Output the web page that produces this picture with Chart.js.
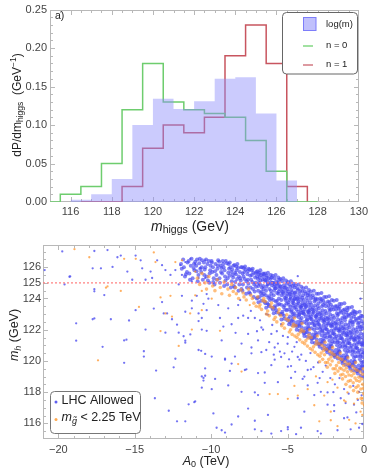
<!DOCTYPE html>
<html><head><meta charset="utf-8">
<script src="https://cdn.jsdelivr.net/npm/chart.js@4.4.1/dist/chart.umd.min.js"></script>
<style>
html,body{margin:0;padding:0;background:#fff;}
#wrap{position:relative;width:371px;height:470px;overflow:hidden;}
canvas{position:absolute;left:0;}
</style>
</head><body>
<div id="wrap">
<canvas id="top" width="371" height="236" style="top:0;width:371px;height:236px"></canvas>
<canvas id="bot" width="371" height="234" style="top:236px;width:371px;height:234px"></canvas>
</div>
<script>
// ---------- Panel a) histogram data ----------
const logmEdges  = [116,117,118,119,120,121,122,123,124,125,126,127];
const logmValues = [0.003,0.01,0.03,0.10,0.134,0.121,0.131,0.16,0.162,0.115,0.028];
const n0Edges  = [115,115.5,116.5,117.5,118.5,119.5,120.5,121.5,122.5,123.5,124.5,125.5,126.5,128];
const n0Values = [0,0.01,0.02,0.05,0.12,0.18,0.13,0.12,0.115,0.11,0.08,0.04,0];
const n1Edges  = [116.5,118.5,119.5,120.5,121.5,122.5,123.5,124.5,125.5,126.5,127.5];
const n1Values = [0,0.02,0.07,0.10,0.09,0.11,0.19,0.23,0.18,0.02];
const topXTicks = [116,118,120,122,124,126,128,130];
const topYTicks = [0,0.05,0.10,0.15,0.20,0.25];

// ---------- Panel b) scatter data (A0 [TeV], m_h [GeV]) ----------
const botXTicks = [-20,-15,-10,-5,0];
const botYTicks = [116,118,120,122,124,125,126];
const mhRef = 125;

const lhcDense = [
[-11.97,126.2],[-11.58,125.7],[-11.83,126.5],[-11.71,125.4],[-11.92,125.9],[-11.54,126.3],[-11.78,126.0],[-11.65,125.55],
[-11.47,126.4],[-11.09,125.8],[-11.33,126.1],[-11.21,125.3],[-11.42,125.6],[-11.04,126.35],[-11.28,126.55],[-11.15,125.95],[-11.38,125.2],[-11.12,126.2],
[-10.97,126.1],[-10.59,126.45],[-10.83,125.5],[-10.71,125.9],[-10.92,126.5],[-10.54,125.2],[-10.78,126.25],[-10.65,125.7],[-10.88,125.1],[-10.62,126.0],[-10.95,125.75],[-10.74,126.55],
[-10.47,126.3],[-10.09,125.6],[-10.33,126.5],[-10.21,125.15],[-10.42,125.85],[-10.04,126.1],[-10.28,125.4],[-10.15,126.4],[-10.38,126.0],[-10.12,125.0],[-10.45,125.5],[-10.24,126.2],[-10.06,125.8],
[-9.97,126.4],[-9.59,125.9],[-9.83,125.3],[-9.71,126.2],[-9.92,125.7],[-9.54,126.45],[-9.78,124.9],[-9.65,125.5],[-9.88,126.0],[-9.62,125.2],[-9.95,126.3],[-9.74,125.75],[-9.56,126.1],[-9.86,125.05],
[-9.47,126.35],[-9.09,125.4],[-9.33,125.95],[-9.21,126.2],[-9.42,125.0],[-9.04,126.4],[-9.28,125.6],[-9.15,124.8],[-9.38,126.1],[-9.12,125.8],[-9.45,125.3],[-9.24,126.4],[-9.06,125.15],[-9.35,125.7],[-9.18,126.0],
[-8.97,126.25],[-8.59,125.5],[-8.83,125.9],[-8.71,124.7],[-8.92,125.3],[-8.54,126.1],[-8.78,126.3],[-8.65,125.1],[-8.88,125.65],[-8.62,125.85],[-8.95,124.9],[-8.74,126.0],[-8.56,125.35],[-8.86,126.2],[-8.68,125.7],[-8.51,124.8],[-8.80,125.45],
[-8.47,126.15],[-8.09,125.3],[-8.33,125.8],[-8.21,124.5],[-8.42,125.05],[-8.04,126.0],[-8.28,126.2],[-8.15,124.9],[-8.38,125.55],[-8.12,125.7],[-8.45,124.7],[-8.24,125.95],[-8.06,125.15],[-8.35,126.05],[-8.18,125.4],[-8.01,124.6],[-8.30,125.25],[-8.44,125.65],
[-7.97,126.0],[-7.59,125.2],[-7.83,125.7],[-7.71,124.3],[-7.92,124.9],[-7.54,125.9],[-7.78,126.05],[-7.65,124.7],[-7.88,125.4],[-7.62,125.55],[-7.95,124.5],[-7.74,125.85],[-7.56,124.95],[-7.86,125.95],[-7.68,125.1],[-7.51,124.4],[-7.80,125.25],[-7.94,125.6],[-7.60,125.75],
[-7.47,125.85],[-7.09,125.0],[-7.33,125.5],[-7.21,124.1],[-7.42,124.7],[-7.04,125.7],[-7.28,125.9],[-7.15,124.45],[-7.38,125.2],[-7.12,125.35],[-7.45,124.3],[-7.24,125.65],[-7.06,124.75],[-7.35,125.8],[-7.18,124.9],[-7.01,124.0],[-7.30,125.05],[-7.44,125.45],[-7.10,125.6],[-7.26,124.6],
[-6.97,125.75],[-6.59,124.8],[-6.83,125.35],[-6.71,123.85],[-6.92,124.5],[-6.54,125.55],[-6.78,125.8],[-6.65,124.2],[-6.88,125.0],[-6.62,125.2],[-6.95,124.05],[-6.74,125.5],[-6.56,124.6],[-6.86,125.65],[-6.68,124.7],[-6.51,123.8],[-6.80,124.9],[-6.94,125.25],[-6.60,125.4],[-6.76,124.35],[-6.90,123.75],
[-6.47,125.6],[-6.09,124.5],[-6.33,125.1],[-6.21,123.5],[-6.42,124.2],[-6.04,125.35],[-6.28,125.65],[-6.15,123.9],[-6.38,124.75],[-6.12,125.0],[-6.45,123.7],[-6.24,125.3],[-6.06,124.3],[-6.35,125.45],[-6.18,124.6],[-6.01,123.4],[-6.30,124.9],[-6.44,125.15],[-6.10,125.5],[-6.26,124.05],[-6.40,123.4],[-6.03,124.85],
[-5.97,125.45],[-5.59,124.3],[-5.83,124.9],[-5.71,123.1],[-5.92,123.9],[-5.54,125.2],[-5.78,125.5],[-5.65,123.6],[-5.88,124.5],[-5.62,124.8],[-5.95,123.3],[-5.74,125.1],[-5.56,124.0],[-5.86,125.3],[-5.68,124.35],[-5.51,123.0],[-5.80,124.65],[-5.94,125.0],[-5.60,125.35],[-5.76,123.8],[-5.90,123.05],[-5.53,124.6],[-5.70,124.95],[-5.84,123.5],
[-5.47,125.25],[-5.09,124.0],[-5.33,124.6],[-5.21,122.7],[-5.42,123.6],[-5.04,124.95],[-5.28,125.3],[-5.15,123.3],[-5.38,124.2],[-5.12,124.5],[-5.45,123.0],[-5.24,124.85],[-5.06,123.7],[-5.35,125.1],[-5.18,124.05],[-5.01,122.6],[-5.30,124.4],[-5.44,124.75],[-5.10,125.15],[-5.26,123.45],[-5.40,122.65],[-5.03,124.3],[-5.20,124.7],[-5.34,123.15],[-5.14,123.9],
[-4.97,125.05],[-4.59,123.7],[-4.83,124.3],[-4.71,122.3],[-4.92,123.3],[-4.54,124.7],[-4.78,125.1],[-4.65,123.0],[-4.88,123.9],[-4.62,124.2],[-4.95,122.7],[-4.74,124.55],[-4.56,123.4],[-4.86,124.9],[-4.68,123.75],[-4.51,122.25],[-4.80,124.1],[-4.94,124.45],[-4.60,124.95],[-4.76,123.15],[-4.90,122.35],[-4.53,124.0],[-4.70,124.4],[-4.84,122.85],[-4.64,123.55],[-4.58,122.5],[-4.82,124.75],
[-4.47,124.85],[-4.09,123.4],[-4.33,124.0],[-4.21,121.95],[-4.42,122.9],[-4.04,124.45],[-4.28,124.9],[-4.15,122.6],[-4.38,123.6],[-4.12,123.9],[-4.45,122.3],[-4.24,124.3],[-4.06,123.1],[-4.35,124.65],[-4.18,123.45],[-4.01,121.9],[-4.30,123.8],[-4.44,124.15],[-4.10,124.75],[-4.26,122.8],[-4.40,122.0],[-4.03,123.7],[-4.20,124.1],[-4.34,122.5],[-4.14,123.25],[-4.08,122.15],[-4.32,124.55],[-4.22,123.0],
[-3.97,124.65],[-3.59,123.1],[-3.83,123.7],[-3.71,121.55],[-3.92,122.5],[-3.54,124.2],[-3.78,124.7],[-3.65,122.2],[-3.88,123.3],[-3.62,123.6],[-3.95,121.9],[-3.74,124.05],[-3.56,122.8],[-3.86,124.45],[-3.68,123.15],[-3.51,121.5],[-3.80,123.5],[-3.94,123.9],[-3.60,124.55],[-3.76,122.4],[-3.90,121.6],[-3.53,123.4],[-3.70,123.85],[-3.84,122.1],[-3.64,122.95],[-3.58,121.75],[-3.82,124.3],[-3.72,122.65],[-3.98,123.05],[-3.66,124.35],
[-3.47,124.45],[-3.09,122.8],[-3.33,123.4],[-3.21,121.15],[-3.42,122.1],[-3.04,123.95],[-3.28,124.5],[-3.15,121.8],[-3.38,123.0],[-3.12,123.3],[-3.45,121.5],[-3.24,123.8],[-3.06,122.45],[-3.35,124.2],[-3.18,122.85],[-3.01,121.1],[-3.30,123.2],[-3.44,123.6],[-3.10,124.3],[-3.26,122.0],[-3.40,121.2],[-3.03,123.1],[-3.20,123.55],[-3.34,121.7],[-3.14,122.6],[-3.08,121.35],[-3.32,124.05],[-3.22,122.3],[-3.48,122.7],[-3.16,124.0],[-3.37,122.4],
[-2.97,124.3],[-2.59,122.5],[-2.83,123.1],[-2.71,120.8],[-2.92,121.8],[-2.54,123.7],[-2.78,124.35],[-2.65,121.45],[-2.88,122.7],[-2.62,123.0],[-2.95,121.15],[-2.74,123.5],[-2.56,122.1],[-2.86,124.0],[-2.68,122.55],[-2.51,120.75],[-2.80,122.9],[-2.94,123.35],[-2.60,124.1],[-2.76,121.65],[-2.90,120.9],[-2.53,122.8],[-2.70,123.25],[-2.84,121.35],[-2.64,122.3],[-2.58,121.0],[-2.82,123.8],[-2.72,121.95],[-2.98,122.35],[-2.66,123.85],[-2.87,122.05],[-2.55,121.6],
[-2.47,124.1],[-2.09,122.2],[-2.33,122.8],[-2.21,120.45],[-2.42,121.5],[-2.04,123.45],[-2.28,124.15],[-2.15,121.1],[-2.38,122.4],[-2.12,122.7],[-2.45,120.8],[-2.24,123.2],[-2.06,121.75],[-2.35,123.8],[-2.18,122.25],[-2.01,120.4],[-2.30,122.6],[-2.44,123.05],[-2.10,123.9],[-2.26,121.3],[-2.40,120.55],[-2.03,122.5],[-2.20,122.95],[-2.34,121.0],[-2.14,121.95],[-2.08,120.65],[-2.32,123.55],[-2.22,121.6],[-2.48,122.05],[-2.16,123.6],[-2.37,121.75],[-2.05,121.25],[-2.27,123.35],
[-1.97,123.85],[-1.59,121.9],[-1.83,122.5],[-1.71,120.15],[-1.92,121.2],[-1.54,123.2],[-1.78,123.9],[-1.65,120.8],[-1.88,122.1],[-1.62,122.4],[-1.95,120.5],[-1.74,122.9],[-1.56,121.45],[-1.86,123.5],[-1.68,121.95],[-1.51,120.1],[-1.80,122.3],[-1.94,122.75],[-1.60,123.65],[-1.76,121.0],[-1.90,120.25],[-1.53,122.2],[-1.70,122.65],[-1.84,120.7],[-1.64,121.65],[-1.58,120.35],[-1.82,123.3],[-1.72,121.3],[-1.98,121.75],[-1.66,123.35],[-1.87,121.45],[-1.55,120.95],[-1.77,123.05],[-1.61,120.6],
[-1.47,123.65],[-1.09,121.6],[-1.33,122.2],[-1.21,119.75],[-1.42,120.9],[-1.04,122.95],[-1.28,123.7],[-1.15,120.5],[-1.38,121.8],[-1.12,122.1],[-1.45,120.2],[-1.24,122.6],[-1.06,121.15],[-1.35,123.25],[-1.18,121.65],[-1.01,119.7],[-1.30,122.0],[-1.44,122.45],[-1.10,123.4],[-1.26,120.7],[-1.40,119.85],[-1.03,121.9],[-1.20,122.35],[-1.34,120.35],[-1.14,121.35],[-1.08,120.0],[-1.32,123.0],[-1.22,121.0],[-1.48,121.45],[-1.16,123.1],[-1.37,121.15],[-1.05,120.65],[-1.27,122.8],[-1.11,120.25],[-1.41,122.75],
[-0.97,123.4],[-0.59,121.3],[-0.83,121.9],[-0.71,119.4],[-0.92,120.6],[-0.54,122.7],[-0.78,123.45],[-0.65,120.2],[-0.88,121.5],[-0.62,121.8],[-0.95,119.85],[-0.74,122.3],[-0.56,120.85],[-0.86,123.0],[-0.68,121.35],[-0.51,119.35],[-0.80,121.7],[-0.94,122.15],[-0.60,123.15],[-0.76,120.4],[-0.90,119.5],[-0.53,121.6],[-0.70,122.05],[-0.84,120.0],[-0.64,121.05],[-0.58,119.65],[-0.82,122.75],[-0.72,120.7],[-0.98,121.15],[-0.66,122.85],[-0.87,120.85],[-0.55,120.3],[-0.77,122.5],[-0.61,119.95],[-0.91,122.45],[-0.69,123.2],
[-0.47,123.1],[-0.09,121.0],[-0.33,121.6],[-0.21,119.05],[-0.42,120.3],[-0.04,122.4],[-0.28,123.15],[-0.15,119.9],[-0.38,121.2],[-0.12,121.5],[-0.45,119.5],[-0.24,122.0],[-0.06,120.55],[-0.35,122.75],[-0.18,121.05],[-0.01,119.0],[-0.30,121.4],[-0.44,121.85],[-0.10,122.85],[-0.26,120.1],[-0.40,119.2],[-0.03,121.3],[-0.20,121.75],[-0.34,119.7],[-0.14,120.75],[-0.08,119.3],[-0.32,122.45],[-0.22,120.4],[-0.48,120.85],[-0.16,122.55],[-0.37,120.55],[-0.05,119.95],[-0.27,122.2],[-0.11,119.65],[-0.41,122.15],[-0.19,122.9]
];

const lhcCore = [
[-6.99,125.4],[-6.91,124.8],[-6.83,124.1],[-6.77,125.15],[-6.69,124.45],[-6.61,125.6],[-6.55,124.3],[-6.87,125.55],
[-6.49,125.2],[-6.41,124.5],[-6.33,123.7],[-6.27,124.95],[-6.19,124.15],[-6.11,125.25],[-6.05,124.0],[-6.37,125.35],[-6.23,123.6],
[-5.99,125.0],[-5.91,124.2],[-5.83,123.4],[-5.77,124.65],[-5.69,123.85],[-5.61,125.0],[-5.55,123.65],[-5.87,124.75],[-5.73,123.25],[-5.58,124.45],
[-5.49,124.8],[-5.41,123.9],[-5.33,123.0],[-5.27,124.3],[-5.19,123.55],[-5.11,124.7],[-5.05,123.25],[-5.37,124.45],[-5.23,122.9],[-5.08,124.15],
[-4.99,124.6],[-4.91,123.6],[-4.85,122.5],[-4.79,124.0],[-4.73,123.25],[-4.67,124.8],[-4.61,122.85],[-4.55,123.95],[-4.52,124.35],[-4.63,123.85],[-4.75,122.55],[-4.87,124.25],[-4.96,123.75],[-4.69,122.65],[-4.57,123.05],[-4.81,123.45],
[-4.49,124.4],[-4.41,123.3],[-4.35,122.2],[-4.29,123.7],[-4.23,122.95],[-4.17,124.5],[-4.11,122.45],[-4.05,123.55],[-4.02,124.05],[-4.13,123.5],[-4.25,122.25],[-4.37,123.95],[-4.46,123.45],[-4.19,122.35],[-4.07,122.75],[-4.31,123.15],
[-3.99,124.2],[-3.91,123.0],[-3.85,121.8],[-3.79,123.45],[-3.73,122.6],[-3.67,124.2],[-3.61,122.1],[-3.55,123.25],[-3.52,123.75],[-3.63,123.2],[-3.75,121.85],[-3.87,123.6],[-3.96,123.15],[-3.69,122.0],[-3.57,122.4],[-3.81,122.85],[-3.93,121.75],
[-3.49,124.0],[-3.41,122.65],[-3.35,121.45],[-3.29,123.1],[-3.23,122.25],[-3.17,123.9],[-3.11,121.7],[-3.05,122.95],[-3.02,123.5],[-3.13,122.9],[-3.25,121.5],[-3.37,123.3],[-3.46,122.85],[-3.19,121.6],[-3.07,122.1],[-3.31,122.5],[-3.43,121.4],
[-2.99,123.7],[-2.91,122.3],[-2.85,121.1],[-2.79,122.75],[-2.73,121.9],[-2.67,123.6],[-2.61,121.3],[-2.55,122.6],[-2.52,123.2],[-2.63,122.65],[-2.75,121.15],[-2.87,123.0],[-2.96,122.55],[-2.69,121.25],[-2.57,121.75],[-2.81,122.15],[-2.93,121.05],[-2.77,123.95],
[-2.49,123.5],[-2.41,122.0],[-2.35,120.75],[-2.29,122.4],[-2.23,121.55],[-2.17,123.3],[-2.11,120.95],[-2.05,122.3],[-2.02,122.9],[-2.13,122.35],[-2.25,120.8],[-2.37,122.7],[-2.46,122.25],[-2.19,120.9],[-2.07,121.45],[-2.31,121.85],[-2.43,120.7],[-2.27,123.75],
[-1.99,123.3],[-1.91,121.7],[-1.85,120.4],[-1.79,122.1],[-1.73,121.2],[-1.67,123.0],[-1.61,120.6],[-1.55,122.0],[-1.52,122.6],[-1.63,122.05],[-1.75,120.45],[-1.87,122.4],[-1.96,121.95],[-1.69,120.55],[-1.57,121.15],[-1.81,121.55],[-1.93,120.35],[-1.77,123.5],[-1.59,123.45],
[-1.49,123.1],[-1.41,121.4],[-1.35,120.05],[-1.29,121.8],[-1.23,120.9],[-1.17,122.8],[-1.11,120.3],[-1.05,121.7],[-1.02,122.3],[-1.13,121.75],[-1.25,120.1],[-1.37,122.1],[-1.46,121.65],[-1.19,120.2],[-1.07,120.85],[-1.31,121.25],[-1.43,120.0],[-1.27,123.3],[-1.09,123.25],
[-0.99,122.9],[-0.93,121.1],[-0.85,119.7],[-0.79,121.5],[-0.73,120.6],[-0.67,122.5],[-0.61,120.0],[-0.55,121.4],[-0.52,122.0],[-0.63,121.45],[-0.75,119.75],[-0.87,121.8],[-0.96,121.35],[-0.69,119.85],[-0.57,120.55],[-0.81,120.95],[-0.93,119.65],[-0.77,123.05],[-0.59,123.0],[-0.89,122.55],
[-0.49,122.6],[-0.43,120.8],[-0.35,119.4],[-0.29,121.2],[-0.23,120.3],[-0.17,122.2],[-0.11,119.7],[-0.05,121.1],[-0.02,121.7],[-0.13,121.15],[-0.25,119.45],[-0.37,121.5],[-0.46,121.05],[-0.19,119.55],[-0.07,120.25],[-0.31,120.65],[-0.43,119.35],[-0.27,122.75],[-0.09,122.1],[-0.39,122.4],[-0.01,120.5]
];

const lhcSparse = [
[-19.74,127.01],[-20.89,125.82],[-19.59,124.9],[-19.22,125.41],[-17.75,125.93],[-17.21,125.93],[-17.64,124.59],[-16.78,127.1],[-16.45,126.02],[-16.99,124.22],[-16.13,126.64],[-15.91,126.75],[-15.48,125.72],[-15.16,125.2],[-14.94,126.75],[-14.61,126.44],[-14.51,125.93],[-14.29,125.2],[-13.96,125.72],[-13.86,125.31],[-13.53,126.44],[-13.21,126.13],[-12.99,125.82],[-12.66,125.51],[-12.34,125.82],[-12.01,126.13],[-11.69,126.33],[-11.36,126.54],[-11.04,126.23],[-10.71,125.93],[-10.39,126.44],[-11.91,125.51],[-11.26,125.1],[-10.82,125.31],[-10.39,125.31],[-12.12,124.9],[-10.94,124.17],[-10.29,124.28],[-13.21,123.77],[-11.91,124.17],[-11.26,123.86],[-10.5,123.66],[-13.1,123.04],[-12.88,123.04],[-12.56,122.67],[-12.23,122.32],[-11.69,123.15],[-10.82,123.04],[-10.29,123.25],[-13.75,123.35],[-17.75,122.67],[-16.56,122.67],[-15.37,122.59],[-14.94,123.25],[-14.29,122.01],[-12.99,121.81],[-12.12,121.81],[-11.36,121.7],[-10.61,122.01],[-18.83,121.3],[-15.54,121.36],[-11.69,121.3],
[-17.1,120.9],[-15.69,119.88],[-14.4,120.62],[-14.4,120.28],[-13.6,119.38],[-12.45,119.59],[-11.8,121.58],[-10.65,120.65],[-10.39,119.52],[-10.61,119.01],[-10.5,118.74],[-10.61,118.29],[-13.68,117.61],[-12.77,116.81],[-11.47,117.22],[-11.1,117.36],[-11.69,116.13],
[-15.69,121.31],[-12.23,116.13],[-9.96,118.19],[-9.85,116.64],[-9.64,115.72],[-9.09,115.41],[-8.66,115.93],[-8.23,116.44],[-7.14,115.62],[-6.71,115.51],[-6.28,116.54],[-5.42,115.51],[-4.98,115.62],[-4.44,115.31],[-7.58,116.95],[-7.14,117.98],[-6.49,118.6],[-4.77,118.91],[-3.68,119.42],[-3.03,118.6],[-2.38,117.98],[-1.95,117.16],[-1.3,116.33],[-0.87,115.62],[-0.32,115.72],[-3.9,116.75],[-3.03,115.51],[-4.12,115.72],[-10.5,118.91],[-10.39,120.45],[-9.09,120.14],[-8.66,119.83],[-7.36,120.86],[-6.71,120.56],[-5.84,120.86],[-5.42,120.25],[-4.98,119.63],[-4.33,120.25],[-7.79,119.42],[-6.93,119.22],[-6.06,119.73],[-11.69,121.17],[-12.34,120.14],
[-11.26,123.37],[-10.82,122.55],[-10.29,121.93],[-9.96,120.28],[-11.04,117.41],[-9.31,115.56],[-8.77,119.36],[-8.66,122.35],[-8.23,122.75],[-8.01,121.11],[-7.58,121.73],[-7.36,120.49],[-7.14,122.75],[-6.93,121.31],[-6.71,122.14],[-6.39,120.7],[-6.28,122.96],[-6.06,121.73],[-5.84,120.08],[-5.63,121.11],[-5.42,122.35],[-5.2,120.49],[-4.98,121.52],[-4.77,119.67],[-4.55,120.9],[-4.22,120.08],[-4.01,118.85],[-3.68,118.43],[-3.47,119.46],[-3.25,117.81],[-2.82,118.02],[-2.38,117.2],[-1.95,116.79],[-1.52,117.61],[-1.08,116.38],[-0.65,117.2],[-0.32,118.02],[-0.11,115.96],[-1.73,115.56],[-2.82,115.35],[-4.98,115.76],[-6.06,115.35],[-7.14,116.17],[-8.01,118.02],[-8.88,118.43],[-9.74,118.85],[-10.39,119.05],[-6.49,119.26],[-5.63,118.64],[-6.93,117.81],[-4.33,117.61],[-9.31,121.31],[-10.18,123.99],[-10.61,122.75],[-9.53,123.58],[-8.88,123.37],[-8.23,123.58],[-7.58,122.75],[-9.42,122.75],[-10.82,120.7],[-8.44,120.28],[-9.09,120.08],[-7.69,119.46],[-0.22,123.99],[-4.33,125.43],
[-19.27,125.39],[-17.64,127.04],[-17.64,124.46],[-18.83,122.41],[-17.64,122.72],
[-7.9,122.9],[-7.4,123.2],[-6.8,122.6],[-6.4,123.0],[-6.0,122.3],[-5.7,121.9],[-5.3,121.6],[-5.0,121.1],[-4.7,120.6],[-4.4,121.2],[-4.1,120.4],[-3.8,120.0],[-3.5,120.5],[-3.3,119.6],[-3.0,119.9],[-2.7,119.3],[-2.5,119.7],[-2.2,118.9],[-1.9,118.5],[-1.6,118.9],[-1.3,118.2],[-1.0,117.9],[-0.7,118.4],[-0.4,117.5],[-0.15,117.8],[-8.4,121.8],[-7.0,121.9],[-6.2,121.2],[-5.5,120.6],[-4.9,120.1],[-4.5,119.3],[-3.9,119.0],[-2.9,118.9],[-2.0,118.0],[-1.2,117.3],[-0.5,116.7],[-9.2,122.2],[-8.1,123.9],[-6.6,122.0],[-5.9,120.4]
];

const gluinoDense = [
[-10.9,125.3],[-10.6,125.6],[-10.75,124.9],[-10.4,125.0],[-10.15,125.4],[-10.3,124.6],[-9.9,124.8],[-9.6,125.2],[-9.75,124.5],[-9.4,124.7],[-9.15,125.05],[-9.3,124.3],
[-8.9,124.6],[-8.65,124.9],[-8.8,124.2],[-8.55,124.45],[-8.4,124.7],[-8.2,124.0],[-8.35,124.3],[-8.05,124.55],[-7.9,124.35],[-7.7,123.9],[-7.85,124.1],[-7.55,124.6],[-7.4,124.2],[-7.2,123.7],[-7.3,124.0],[-7.05,123.5],
[-6.95,124.1],[-6.8,123.6],[-6.6,123.85],[-6.7,123.3],[-6.55,124.0],[-6.85,123.45],
[-6.45,123.8],[-6.3,123.2],[-6.1,123.5],[-6.2,122.9],[-6.05,123.7],[-6.38,123.0],
[-5.95,123.4],[-5.8,122.8],[-5.6,123.1],[-5.7,122.5],[-5.55,123.3],[-5.88,122.65],
[-5.45,122.9],[-5.3,122.4],[-5.1,122.7],[-5.2,122.1],[-5.05,122.95],[-5.38,122.25],
[-4.95,122.6],[-4.8,122.0],[-4.6,122.35],[-4.7,121.7],[-4.55,122.75],[-4.88,121.85],[-4.65,122.2],[-4.52,121.6],
[-4.45,122.25],[-4.3,121.7],[-4.1,122.0],[-4.2,121.35],[-4.05,122.4],[-4.38,121.5],[-4.15,121.85],[-4.02,121.2],
[-3.95,121.9],[-3.8,121.3],[-3.6,121.65],[-3.7,120.95],[-3.55,122.0],[-3.88,121.1],[-3.65,121.45],[-3.52,120.8],
[-3.45,121.5],[-3.3,120.9],[-3.1,121.25],[-3.2,120.55],[-3.05,121.6],[-3.38,120.7],[-3.15,121.05],[-3.02,120.4],
[-2.95,121.1],[-2.8,120.5],[-2.6,120.85],[-2.7,120.1],[-2.55,121.2],[-2.88,120.3],[-2.65,120.65],[-2.52,119.9],[-2.75,121.0],[-2.9,119.95],[-2.58,120.4],
[-2.45,120.75],[-2.3,120.1],[-2.1,120.5],[-2.2,119.75],[-2.05,120.85],[-2.38,119.9],[-2.15,120.25],[-2.02,119.5],[-2.25,120.6],[-2.4,119.6],[-2.08,120.0],
[-1.95,120.4],[-1.8,119.7],[-1.6,120.15],[-1.7,119.35],[-1.55,120.5],[-1.88,119.5],[-1.65,119.9],[-1.52,119.1],[-1.75,120.25],[-1.9,119.2],[-1.58,119.55],
[-1.45,120.1],[-1.3,119.4],[-1.1,119.8],[-1.2,119.0],[-1.05,120.2],[-1.38,119.15],[-1.15,119.55],[-1.02,118.7],[-1.25,119.95],[-1.4,118.85],[-1.08,119.3],[-1.33,119.7],[-1.18,118.5],[-1.48,119.5],
[-0.95,119.8],[-0.8,119.05],[-0.6,119.5],[-0.7,118.6],[-0.55,119.9],[-0.88,118.75],[-0.65,119.2],[-0.52,118.3],[-0.75,119.65],[-0.9,118.35],[-0.58,118.9],[-0.83,119.35],[-0.68,118.1],[-0.98,119.1],
[-0.45,119.4],[-0.3,118.7],[-0.1,119.15],[-0.2,118.2],[-0.05,119.5],[-0.38,118.4],[-0.15,118.85],[-0.02,117.9],[-0.25,119.3],[-0.4,118.0],[-0.08,118.5],[-0.33,118.95],[-0.18,117.6],[-0.48,118.75],[-0.12,117.3],[-0.03,118.25]
];

const gluinoSparse = [
[-18.94,127.16],[-17.97,126.64],[-16.88,124.69],[-15.91,124.48],[-15.69,126.54],[-14.93,126.54],[-14.72,123.46],[-13.75,126.95],[-13.64,126.33],[-13.31,124.07],[-12.66,124.17],[-12.56,122.84],[-13.31,121.91],[-11.26,122.01],[-12.34,126.33],[-11.91,126.44],[-11.04,125.72],[-10.61,124.48],[-10.61,123.25],[-11.37,123.04],[-12.99,123.04],[-16.78,124.77],
[-17.4,120.04],[-12.12,120.96],[-8.23,119.8],[-4.98,117.57],[-2.92,116.13],[-0.55,116.0],[-1.2,117.4],[-0.11,117.6],[-2.17,116.75],
[-1.3,117.47],[-0.65,117.26],[-0.22,116.75],[-2.17,116.2],[-1.73,115.82],[-0.97,116.23],[-0.11,116.54],[-4.33,117.78],[-5.63,117.88],[-6.17,117.88],[-3.25,117.16],[-2.6,117.78],[-4.55,118.4],[-3.68,118.19],[-8.01,119.32],[-3.14,119.01],[-2.06,118.8],[-1.73,118.29],[-1.08,117.98],[-0.43,117.57],[0,117.16],
[-7.47,123.58],[-9.42,121.93],[-2.38,118.64],[-9.96,123.99],[-11.04,124.2]
];

// ---------- helpers ----------
const FONT = "'Liberation Sans', Arial, sans-serif";
Chart.defaults.font.family = FONT;
Chart.defaults.animation = false;

function stepPoints(edges, values){
  const pts = values.map((v,i)=>({x:edges[i], y:v}));
  const last = edges[edges.length-1];
  pts.push({x:last, y:values[values.length-1]});
  pts.push({x:last, y:0});
  return pts;
}
function toXY(arr){ return arr.map(p=>({x:p[0], y:p[1]})); }

function rich(ctx, parts, x, y, align){
  const items = parts.map(p=>{
    const st = p.i ? 'italic ' : '';
    const f = st + p.s + 'px ' + FONT;
    ctx.font = f;
    return {p, f, w: ctx.measureText(p.t).width};
  });
  const total = items.reduce((a,b)=>a+b.w,0);
  let cx = align==='center' ? x-total/2 : (align==='left' ? x : x-total);
  ctx.textAlign='left'; ctx.textBaseline='middle';
  for (const it of items){
    ctx.font = it.f;
    ctx.fillText(it.p.t, cx, y + (it.p.dy||0));
    cx += it.w;
  }
}

function frameTicks(chart, xMaj, xMin, yMaj, yMin){
  const {ctx, chartArea:a, scales:{x, y}} = chart;
  ctx.save();
  ctx.strokeStyle = '#b8b8b8'; ctx.lineWidth = 1;
  const L=Math.round(a.left)+0.5, R=Math.round(a.right)-0.5, T=Math.round(a.top)+0.5, B=Math.round(a.bottom)-0.5;
  ctx.strokeRect(L, T, R-L, B-T);
  ctx.beginPath();
  const vx = (list, len)=>list.forEach(v=>{ const p=Math.round(x.getPixelForValue(v))+0.5; if(p<L||p>R) return; ctx.moveTo(p,B); ctx.lineTo(p,B-len); ctx.moveTo(p,T); ctx.lineTo(p,T+len); });
  const vy = (list, len)=>list.forEach(v=>{ const p=Math.round(y.getPixelForValue(v))+0.5; if(p<T||p>B) return; ctx.moveTo(L,p); ctx.lineTo(L+len,p); ctx.moveTo(R,p); ctx.lineTo(R-len,p); });
  vx(xMaj,4.5); vx(xMin,2.5); vy(yMaj,4.5); vy(yMin,2.5);
  ctx.stroke();
  ctx.restore();
}
function range(a,b,s){ const r=[]; for(let v=a; v<=b+1e-9; v+=s) r.push(Math.round(v*1000)/1000); return r; }

// ---------- Top chart ----------
const topPlugin = {
  id:'topDeco',
  beforeDatasetsDraw(chart){
    frameTicks(chart, topXTicks, range(115,130,0.5), topYTicks, range(0,0.25,0.01));
  },
  afterDraw(chart){
    const ctx = chart.ctx; ctx.save();
    ctx.fillStyle='#222';
    rich(ctx,[{t:'a)',s:10.5}],55,16,'left');
    rich(ctx,[{t:'m',s:14,i:true},{t:'higgs',s:10.5,dy:3},{t:' (GeV)',s:14}],190,227,'center');
    ctx.save(); ctx.translate(18,105); ctx.rotate(-Math.PI/2);
    rich(ctx,[{t:'dP/dm',s:12},{t:'higgs',s:8.5,dy:3},{t:'  (GeV',s:12},{t:'\u22121',s:8.5,dy:-4},{t:')',s:12}],0,0,'center');
    ctx.restore();
    // legend
    ctx.beginPath(); ctx.roundRect(282.5,12.5,75,61.5,4);
    ctx.fillStyle='#fff'; ctx.fill(); ctx.strokeStyle='#666'; ctx.lineWidth=1; ctx.stroke();
    ctx.fillStyle='rgba(150,150,250,0.6)'; ctx.fillRect(303.5,17.5,12.5,13);
    ctx.strokeStyle='rgb(125,125,250)'; ctx.strokeRect(303.5,17.5,12.5,13);
    ctx.lineWidth=1.5;
    ctx.strokeStyle='rgb(130,215,130)'; ctx.beginPath(); ctx.moveTo(303,46); ctx.lineTo(313,46); ctx.stroke();
    ctx.strokeStyle='rgb(210,120,130)'; ctx.beginPath(); ctx.moveTo(303,65); ctx.lineTo(313,65); ctx.stroke();
    ctx.fillStyle='#222';
    rich(ctx,[{t:'log(m)',s:9.5}],326,24,'left');
    rich(ctx,[{t:'n = 0',s:9.5}],326,45,'left');
    rich(ctx,[{t:'n = 1',s:9.5}],326,64,'left');
    ctx.restore();
  }
};

new Chart(document.getElementById('top'), {
  type:'line',
  data:{datasets:[
    {label:'log(m)', data:stepPoints(logmEdges,logmValues), stepped:true, fill:'origin',
     backgroundColor:'rgba(140,140,250,0.45)', borderColor:'rgba(0,0,0,0)', borderWidth:1, pointRadius:0, order:0},
    {label:'n = 0', data:stepPoints(n0Edges,n0Values), stepped:true, fill:false,
     borderColor:'rgb(110,205,110)', borderWidth:1.5, pointRadius:0, order:1},
    {label:'n = 1', data:stepPoints(n1Edges,n1Values), stepped:true, fill:false,
     borderColor:'rgb(200,85,95)', borderWidth:1.5, pointRadius:0, order:2}
  ]},
  options:{
    responsive:false, animation:false, events:[],
    layout:{padding:{top:8,right:9,left:0,bottom:0}},
    plugins:{legend:{display:false}, tooltip:{enabled:false}},
    scales:{
      x:{type:'linear', min:115, max:130,
         afterBuildTicks:s=>{ s.ticks = topXTicks.map(v=>({value:v})); },
         ticks:{callback:v=>String(v), font:{size:11}, color:'#444', padding:3, maxRotation:0, autoSkip:false},
         grid:{display:false, drawTicks:false}, border:{display:false},
         afterFit:s=>{ s.height = 34; }},
      y:{type:'linear', min:0, max:0.25,
         afterBuildTicks:s=>{ s.ticks = topYTicks.map(v=>({value:v})); },
         ticks:{callback:v=>Number(v).toFixed(2), font:{size:11}, color:'#444', padding:3, autoSkip:false},
         grid:{display:false, drawTicks:false}, border:{display:false},
         afterFit:s=>{ s.width = 50; }}
    }
  },
  plugins:[topPlugin]
});

// ---------- Bottom chart ----------
const botPlugin = {
  id:'botDeco',
  beforeDatasetsDraw(chart){
    frameTicks(chart, botXTicks, range(-21,0,1), botYTicks, range(115,127,0.5));
  },
  afterDraw(chart){
    const ctx = chart.ctx; ctx.save();
    ctx.fillStyle='#222';
    rich(ctx,[{t:'A',s:12.5,i:true},{t:'0',s:9,dy:3},{t:' (TeV)',s:12.5}],206,226,'center');
    ctx.save(); ctx.translate(15,99); ctx.rotate(-Math.PI/2);
    rich(ctx,[{t:'m',s:12.5,i:true},{t:'h',s:9,i:true,dy:3},{t:' (GeV)',s:12.5}],0,0,'center');
    ctx.restore();
    // legend
    ctx.beginPath(); ctx.roundRect(50.5,155.5,90,42,4);
    ctx.fillStyle='rgba(255,255,255,0.95)'; ctx.fill(); ctx.strokeStyle='#777'; ctx.lineWidth=1; ctx.stroke();
    ctx.fillStyle='rgb(95,95,240)'; ctx.beginPath(); ctx.arc(56,166,1.5,0,Math.PI*2); ctx.fill();
    ctx.fillStyle='rgb(255,170,80)'; ctx.beginPath(); ctx.arc(56,183.5,1.5,0,Math.PI*2); ctx.fill();
    ctx.fillStyle='#222';
    rich(ctx,[{t:'LHC Allowed',s:12.5}],61.5,165,'left');
    rich(ctx,[{t:'m',s:12.5,i:true},{t:'g\u0303',s:9,i:true,dy:4},{t:' < 2.25 TeV',s:12.5}],61.5,181.5,'left');
    ctx.restore();
  }
};

const lhcAll = lhcSparse.concat(lhcDense, lhcCore);
const gluAll = gluinoSparse.concat(gluinoDense);
const nLhcSparse = lhcSparse.length, nGluSparse = gluinoSparse.length;

new Chart(document.getElementById('bot'), {
  type:'scatter',
  data:{datasets:[
    {type:'line', label:'125 GeV', data:[{x:-21,y:mhRef},{x:0,y:mhRef}], borderColor:'rgba(255,125,125,0.8)',
     borderDash:[2,2], borderWidth:1.5, pointRadius:0, fill:false, order:0},
    {label:'m_g < 2.25 TeV', data:toXY(gluAll),
     pointRadius:c=>c.dataIndex < nGluSparse ? 1.15 : 1.8, pointBorderWidth:0,
     backgroundColor:c=>c.dataIndex < nGluSparse ? 'rgba(255,150,45,0.75)' : 'rgba(255,150,45,0.62)',
     borderColor:'rgba(0,0,0,0)', order:1},
    {label:'LHC Allowed', data:toXY(lhcAll),
     pointRadius:c=>c.dataIndex < nLhcSparse ? 1.15 : 2.0, pointBorderWidth:0,
     backgroundColor:c=>c.dataIndex < nLhcSparse ? 'rgba(75,75,240,0.78)' : 'rgba(72,72,240,0.68)',
     borderColor:'rgba(0,0,0,0)', order:2}
  ]},
  options:{
    responsive:false, animation:false, events:[],
    layout:{padding:{top:1,right:4,left:0,bottom:0}},
    plugins:{legend:{display:false}, tooltip:{enabled:false}},
    scales:{
      x:{type:'linear', min:-21, max:0,
         afterBuildTicks:s=>{ s.ticks = botXTicks.map(v=>({value:v})); },
         ticks:{callback:v=>(v<0?'\u2212'+Math.abs(v):String(v)), font:{size:11}, color:'#444', padding:4, maxRotation:0, autoSkip:false},
         grid:{display:false, drawTicks:false}, border:{display:false},
         afterFit:s=>{ s.height = 31; }},
      y:{type:'linear', min:115, max:127.45,
         afterBuildTicks:s=>{ s.ticks = botYTicks.map(v=>({value:v})); },
         ticks:{callback:v=>String(v), font:{size:11}, color:'#444', padding:2, autoSkip:false},
         grid:{display:false, drawTicks:false}, border:{display:false},
         afterFit:s=>{ s.width = 43; }}
    }
  },
  plugins:[botPlugin]
});
</script>
</body></html>
